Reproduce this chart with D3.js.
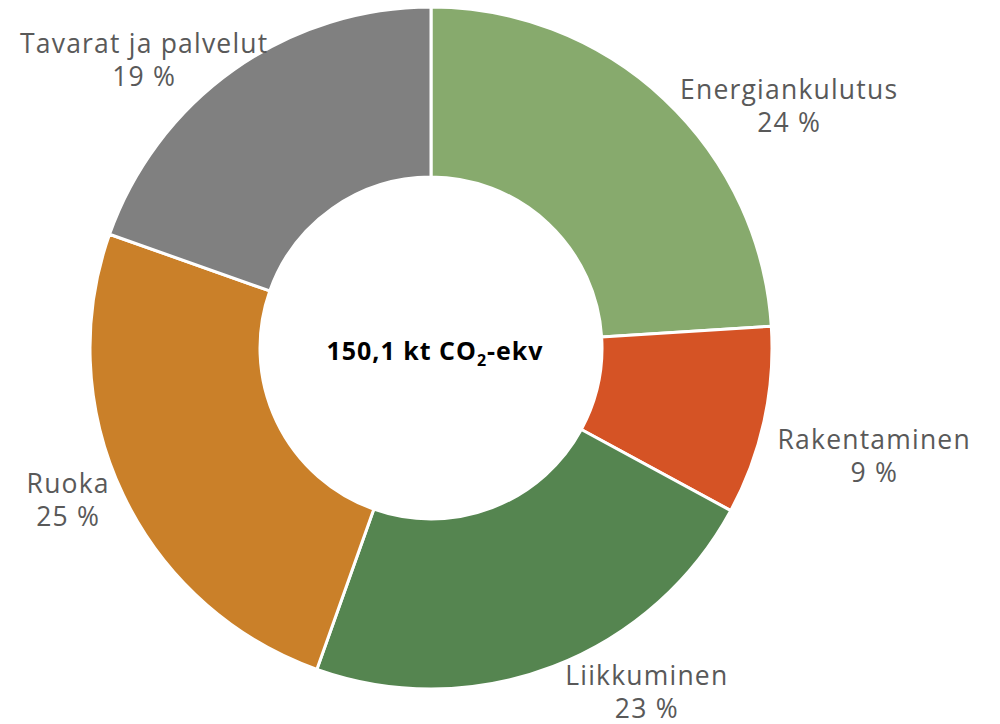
<!DOCTYPE html>
<html>
<head>
<meta charset="utf-8">
<script src="https://cdn.jsdelivr.net/npm/d3@7"></script>
<style>
  body { margin: 0; background: #fff; }
</style>
</head>
<body>
<div id="app"></div>
<script>
// Data (kt CO2-ekv)
const CATEGORIES = ["Energiankulutus", "Rakentaminen", "Liikkuminen", "Ruoka", "Tavarat ja palvelut"];
const VALUES = [36.0, 13.4, 33.8, 37.5, 29.4];
const SHARE_LABELS = ["24 %", "9 %", "23 %", "25 %", "19 %"];
const TOTAL_LABEL = "150,1";

const WIDTH = 1000;
const HEIGHT = 724;
const CX = 431;
const CY = 348;
const OUTER = 341;
const INNER = 171;
const COLORS = ["#87aa6d", "#d55325", "#558550", "#ca8029", "#808080"];

// label placement: angle (deg, clockwise from top) and distance from centre
const LABEL_POS = {
  "Energiankulutus": { a: 55.8, r: 433 },
  "Rakentaminen": { a: 103.6, r: 456 },
  "Liikkuminen": { a: 147.8, r: 405 },
  "Ruoka": { a: 247.4, r: 393 },
  "Tavarat ja palvelut": { a: 315.2, r: 407 },
};

const data = CATEGORIES.map((c, i) => ({ name: c, value: VALUES[i], share: SHARE_LABELS[i] }));

const svg = d3
  .select("#app")
  .append("svg")
  .attr("width", WIDTH)
  .attr("height", HEIGHT);

const g = svg.append("g").attr("transform", `translate(${CX}, ${CY})`);

const pie = d3.pie().value((d) => d.value).sort(null);
const arc = d3.arc().innerRadius(INNER).outerRadius(OUTER);
const color = d3.scaleOrdinal().domain(CATEGORIES).range(COLORS);

g.selectAll("path")
  .data(pie(data))
  .join("path")
  .attr("d", arc)
  .attr("fill", (d) => color(d.data.name))
  .attr("stroke", "#fff")
  .attr("stroke-width", 3)
  .attr("stroke-linejoin", "round");

// Outside labels
const labels = g
  .selectAll("text.label")
  .data(data)
  .join("text")
  .classed("label", true)
  .attr("text-anchor", "middle")
  .attr("font-family", "'Open Sans', sans-serif")
  .attr("font-size", 26.5)
  .attr("letter-spacing", 1.2)
  .attr("fill", "#595959")
  .attr("transform", (d) => {
    const p = LABEL_POS[d.name];
    const rad = (p.a * Math.PI) / 180;
    return `translate(${p.r * Math.sin(rad)}, ${-p.r * Math.cos(rad)})`;
  });

labels.append("tspan").attr("x", 0).attr("y", -6).text((d) => d.name);
labels.append("tspan").attr("x", 0).attr("y", 27).text((d) => d.share);

// Centre total
const total = g
  .append("text")
  .attr("text-anchor", "middle")
  .attr("font-family", "'Open Sans', sans-serif")
  .attr("font-weight", "bold")
  .attr("font-size", 25)
  .attr("letter-spacing", 1)
  .attr("fill", "#000")
  .attr("x", 4)
  .attr("y", 12);
total.append("tspan").text(`${TOTAL_LABEL} kt CO`);
total.append("tspan").attr("font-size", 16).attr("dy", 6).text("2");
total.append("tspan").attr("dy", -6).text("-ekv");
</script>
</body>
</html>
